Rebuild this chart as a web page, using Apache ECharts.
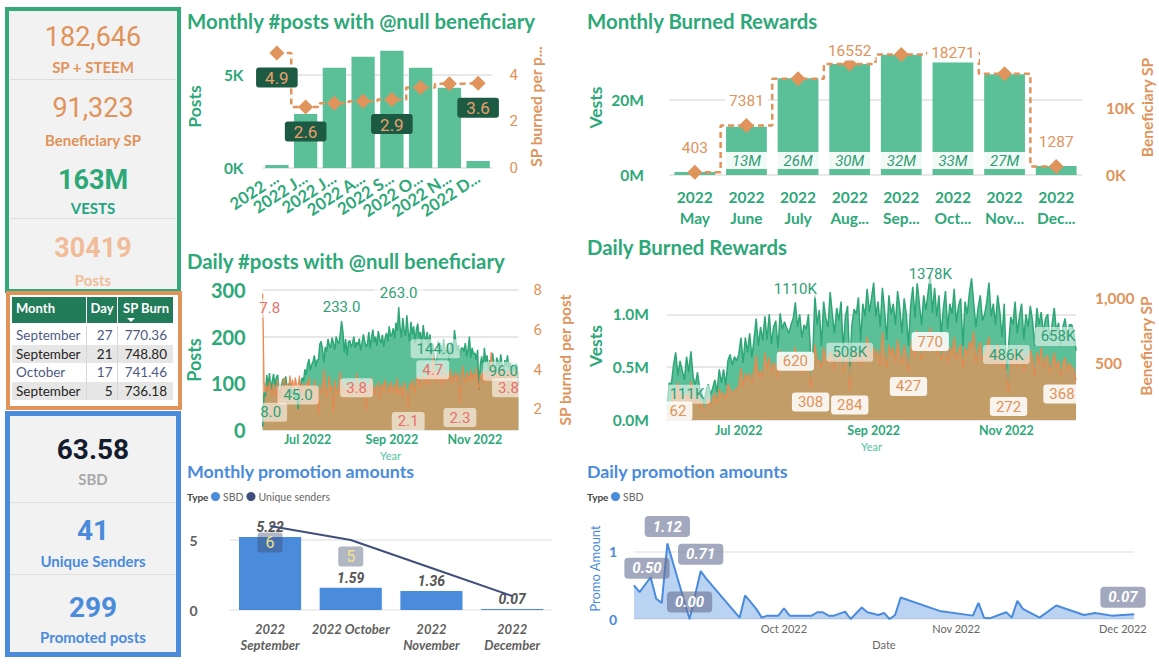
<!DOCTYPE html>
<html><head><meta charset="utf-8">
<script src="https://cdn.jsdelivr.net/npm/echarts@6/dist/echarts.min.js"></script>
<style>
html,body{margin:0;padding:0;background:#fff;width:1159px;height:664px;overflow:hidden;font-family:Lato,"Noto Sans",sans-serif}
#chart{position:absolute;left:0;top:0;width:1159px;height:664px}
.box{position:absolute;box-sizing:border-box}
.kpi{position:absolute;left:9px;width:168px;text-align:center;white-space:nowrap}
.num{font-family:Roboto,"Noto Sans",sans-serif}
.sep{position:absolute;left:10px;width:166px;height:1px;background:#dedede}
#tbl{position:absolute;left:12px;top:297px;width:161px;border-collapse:collapse;table-layout:fixed;font-family:Lato,sans-serif}
#tbl th{background:#227b59;color:#fff;font-weight:bold;font-size:13px;height:22px;padding:0 4px 4px 4px;border-left:1px solid #fff;position:relative;vertical-align:middle}
#tbl td{font-size:13.5px;height:18.5px;padding:0 4px;border-left:1px solid #d6d6d6;white-space:nowrap}
#tbl th:first-child,#tbl td:first-child{border-left:none;text-align:left}
.tri{position:absolute;left:9px;bottom:1px;width:0;height:0;border-left:4px solid transparent;border-right:4px solid transparent;border-top:4px solid #fff}
</style></head><body>
<div id="chart"></div>

<div class="box" style="left:5px;top:7px;width:176px;height:286px;border:4px solid #35a97a;background:#f2f2f2"></div>
<div class="sep" style="top:79px"></div>
<div class="sep" style="top:218px"></div>
<div class="kpi num" style="top:21px;line-height:32px;font-size:27px;color:#e0935a">182,646</div>
<div class="kpi" style="top:58px;line-height:18px;font-size:15px;font-weight:bold;color:#e0935a">SP + STEEM</div>
<div class="kpi num" style="top:92px;line-height:32px;font-size:27px;color:#e0935a">91,323</div>
<div class="kpi" style="top:131px;line-height:18px;font-size:15px;font-weight:bold;color:#e0935a">Beneficiary SP</div>
<div class="kpi num" style="top:164px;line-height:32px;font-size:27px;font-weight:bold;color:#2da878">163M</div>
<div class="kpi" style="top:199px;line-height:18px;font-size:15px;font-weight:bold;color:#23a583">VESTS</div>
<div class="kpi num" style="top:232px;line-height:32px;font-size:27px;font-weight:bold;color:#f0bd98">30419</div>
<div class="kpi" style="top:271px;line-height:18px;font-size:15px;font-weight:bold;color:#f0bd98">Posts</div>

<div class="box" style="left:6px;top:291px;width:176px;height:119px;border:4px solid #e0935a;background:#fff"></div>
<table id="tbl"><colgroup><col style="width:74px"><col style="width:31px"><col style="width:56px"></colgroup>
<thead><tr><th>Month</th><th style="text-align:right">Day</th><th style="text-align:right">SP Burn<span class="tri"></span></th></tr></thead>
<tbody id="tbody" style="border-top:3px solid #fff"></tbody></table>

<div class="box" style="left:5px;top:411px;width:176px;height:246px;border:5px solid #4a8bdc;background:#f2f2f2"></div>
<div class="sep" style="top:502px"></div>
<div class="sep" style="top:574px"></div>
<div class="kpi num" style="top:433px;line-height:34px;font-size:28px;font-weight:bold;color:#141b2d">63.58</div>
<div class="kpi" style="top:470px;line-height:18px;font-size:15px;font-weight:bold;color:#a8a8a8">SBD</div>
<div class="kpi num" style="top:514px;line-height:34px;font-size:28px;font-weight:bold;color:#4a8bdc">41</div>
<div class="kpi" style="top:552px;line-height:18px;font-size:15px;font-weight:bold;color:#4a8bdc">Unique Senders</div>
<div class="kpi num" style="top:591px;line-height:34px;font-size:28px;font-weight:bold;color:#4a8bdc">299</div>
<div class="kpi" style="top:628px;line-height:18px;font-size:15px;font-weight:bold;color:#4a8bdc">Promoted posts</div>

<script>
// ---------------- DATA ----------------
const tblMonth = ['September','September','October','September'];
const tblDay = [27, 21, 17, 5];
const tblBurn = [770.36, 748.80, 741.46, 736.18];

const monthCats = ['2022 May','2022 June','2022 July','2022 August','2022 September','2022 October','2022 November','2022 December'];
const monthlyPosts = [160, 2903, 5376, 5968, 6290, 5376, 4300, 376];
const monthlySpPerPost = [4.94, 2.62, 2.78, 2.87, 2.94, 3.46, 3.62, 3.64];

const burnMonths = ['May','June','July','August','September','October','November','December'];
const monthlyVests = [0.8e6, 12.9e6, 25.8e6, 29.6e6, 32.1e6, 32.6e6, 26.9e6, 2.4e6];
const monthlyBenefSP = [403, 7381, 14350, 16552, 18000, 18271, 15100, 1287];

const dailyStart = [2022, 4, 29];   // 2022-05-29
const dailyCount = 189;              // through 2022-12-03
const dailyTickDates = ['2022-07-01', '2022-09-01', '2022-11-01'];

const dailyPosts = [
 8, 80, 72,
 118, 92, 122, 86, 104, 120, 95, 112, 118, 82, 78, 98, 110, 92, 115, 84, 96, 102, 88, 74, 90, 68, 80, 45, 72, 98, 112, 104, 130, 118,
 140, 152, 128, 140, 146, 160, 135, 150, 150, 184, 190, 172, 145, 178, 168, 195, 182, 176, 198, 186, 172, 200, 190, 185, 205, 233, 210, 165, 195, 158, 188,
 192, 178, 185, 200, 176, 188, 182, 196, 170, 186, 205, 190, 178, 184, 210, 175, 198, 215, 188, 200, 180, 212, 195, 186, 204, 178, 196, 208, 190, 222, 200,
 205, 218, 196, 230, 212, 263, 220, 198, 240, 215, 202, 246, 210, 190, 232, 205, 222, 185, 215, 228, 198, 210, 180, 225, 200, 192, 210, 178, 205, 160,
 185, 160, 144, 150, 190, 168, 182, 158, 195, 172, 165, 185, 150, 178, 188, 162, 214, 190, 170, 182, 160, 175, 176, 168, 186, 158, 172, 200, 155, 176, 162,
 165, 150, 172, 86, 140, 158, 130, 176, 145, 160, 128, 150, 138, 165, 142, 120, 155, 148, 130, 162, 140, 125, 150, 138, 160, 132, 145, 128, 140, 122,
 142, 138, 96
];
const dailySpPerPost = [
 7.8, 3.4, 2.9,
 3.2, 2.9, 3.4, 3.0, 2.7, 3.3, 3.1, 2.6, 3.5, 1.9, 3.2, 2.9, 3.4, 3.6, 3.0, 3.3, 2.8, 3.7, 3.1, 3.5, 2.9, 3.6, 3.2, 3.0, 3.7, 2.8, 3.3, 3.1, 2.7, 3.4,
 3.0, 3.6, 2.7, 3.2, 2.4, 3.5, 2.9, 3.1, 1.7, 3.3, 2.8, 3.0, 4.0, 3.4, 2.6, 3.1, 3.7, 2.9, 3.2, 1.8, 3.5, 3.0, 2.7, 3.3, 3.9, 2.8, 3.1, 3.4, 2.5, 3.0, 3.2,
 3.3, 2.9, 3.1, 3.2, 2.8, 3.8, 3.0, 2.6, 3.4, 3.1, 2.9, 3.5, 1.9, 3.0, 3.3, 2.8, 3.6, 3.1, 2.7, 3.2, 3.0, 3.4, 2.5, 3.1, 3.3, 2.9, 3.5, 3.0, 2.8, 3.2, 3.4,
 2.9, 3.1, 3.3, 2.7, 3.6, 2.8, 3.0, 3.2, 2.6, 3.4, 3.1, 2.9, 2.1, 3.3, 3.0, 3.5, 3.2, 2.8, 3.6, 3.4, 3.7, 3.1, 3.5, 3.8, 3.3, 3.6, 3.7, 3.2, 3.9, 3.5,
 4.7, 3.6, 3.9, 3.3, 4.0, 3.5, 3.7, 3.2, 4.1, 3.6, 3.4, 3.8, 3.5, 4.0, 3.3, 3.7, 3.6, 3.9, 3.4, 3.8, 2.3, 3.5, 4.2, 3.6, 3.3, 3.9, 3.7, 3.4, 4.0, 3.5, 3.8,
 3.6, 4.1, 3.4, 3.0, 3.8, 3.5, 3.9, 3.3, 4.0, 3.6, 3.4, 3.8, 4.9, 3.7, 3.5, 4.1, 3.6, 3.9, 3.4, 3.8, 4.2, 3.6, 3.5, 3.9, 3.7, 4.0, 3.6, 3.8, 3.5, 3.9,
 3.7, 4.0, 3.8
];
const dailyVestsK = [
 111, 350, 340,
 520, 640, 420, 560, 470, 380, 600, 450, 650, 410, 330, 450, 300, 260, 160, 280, 340, 240, 300, 380, 260, 480, 350, 480, 330, 560, 620, 520, 600, 560,
 620, 780, 540, 780, 640, 820, 590, 760, 960, 700, 880, 750, 980, 760, 1000, 720, 880, 940, 680, 1010, 860, 930, 870, 820, 900, 960, 1110, 880, 1000, 780, 900,
 860, 1000, 640, 600, 1180, 900, 1040, 700, 1120, 960, 880, 1210, 1000, 820, 1060, 940, 1120, 660, 980, 1080, 508, 900, 1050, 1000, 1160, 740, 1100, 980, 1240, 1020, 1150,
 1300, 980, 1120, 880, 1250, 1040, 760, 1180, 1000, 1100, 900, 1220, 1060, 820, 1150, 1000, 700, 1080, 1260, 960, 1300, 1100, 900, 1180, 1040, 1200, 1378, 1012, 1250, 980,
 1180, 800, 1050, 1220, 860, 1100, 1000, 1240, 920, 1080, 1150, 700, 1120, 1000, 1200, 1340, 1100, 880, 1060, 1180, 940, 1000, 1120, 1300, 980, 1100, 900, 1180, 1020, 780, 1100,
 486, 700, 974, 900, 1120, 820, 980, 1100, 760, 1000, 880, 1080, 940, 700, 1060, 900, 1020, 820, 960, 1000, 760, 900, 1060, 840, 920, 700, 880, 960, 780, 900,
 900, 842, 658
];
const dailyBenefSP = [
 62, 170, 171,
 281, 220, 350, 180, 280, 240, 260, 200, 360, 260, 190, 280, 150, 210, 120, 180, 240, 160, 230, 270, 190, 300, 250, 270, 220, 340, 300, 260, 290, 300,
 320, 460, 320, 420, 380, 420, 340, 440, 560, 400, 440, 380, 580, 450, 540, 420, 500, 480, 380, 600, 480, 520, 520, 460, 500, 520, 620, 440, 560, 420, 480,
 560, 540, 308, 480, 640, 520, 520, 460, 620, 540, 500, 580, 560, 440, 600, 520, 560, 420, 560, 600, 284, 520, 600, 560, 580, 480, 620, 540, 700, 580, 560,
 620, 540, 600, 480, 736.18, 580, 460, 640, 560, 620, 500, 680, 580, 480, 640, 560, 427, 600, 700, 540, 748.80, 620, 520, 660, 580, 680, 770.36, 600, 700, 560,
 640, 520, 600, 680, 500, 620, 560, 700, 520, 600, 640, 460, 620, 560, 660, 630, 741.46, 500, 600, 660, 520, 560, 620, 700, 540, 600, 480, 640, 560, 460, 580,
 420, 272, 560, 480, 600, 460, 540, 620, 420, 560, 500, 600, 540, 400, 580, 500, 620, 460, 540, 560, 420, 500, 580, 460, 520, 400, 500, 540, 440, 500,
 460, 459, 368
];

const promoMonths = ['2022 September', '2022 October', '2022 November', '2022 December'];
const promoMonthSBD = [5.22, 1.59, 1.36, 0.07];
const promoMonthSenders = [6, 5, 3, 1];

const promoDates = ['2022-09-04','2022-09-05','2022-09-07','2022-09-08','2022-09-09','2022-09-10','2022-09-14','2022-09-16','2022-09-17','2022-09-23',
 '2022-09-24','2022-09-26','2022-09-27','2022-09-28','2022-09-30','2022-10-01','2022-10-02','2022-10-06','2022-10-07','2022-10-08',
 '2022-10-09','2022-10-10','2022-10-12','2022-10-13','2022-10-15','2022-10-16','2022-10-18','2022-10-19','2022-10-20','2022-10-21',
 '2022-10-22','2022-10-29','2022-11-04','2022-11-05','2022-11-06','2022-11-07','2022-11-10','2022-11-11','2022-11-12','2022-11-13',
 '2022-11-16','2022-11-19','2022-11-24','2022-11-26','2022-11-29','2022-12-03'];
const promoSBD = [0.50,0.40,0.62,0.30,0.24,1.12,0.00,0.71,0.60,0.02,
 0.35,0.15,0.02,0.05,0.05,0.16,0.05,0.05,0.10,0.10,
 0.05,0.05,0.11,0.00,0.17,0.10,0.06,0.09,0.00,0.06,
 0.32,0.12,0.05,0.24,0.02,0.01,0.10,0.02,0.27,0.15,
 0.02,0.20,0.06,0.09,0.05,0.07];
const promoRange = ['2022-09-04', '2022-12-03'];
const promoTickDates = ['2022-10-01', '2022-11-01', '2022-12-01'];

// ---------------- TABLE ----------------
(function(){
  const tb = document.getElementById('tbody');
  tblMonth.forEach((m, i) => {
    const tr = document.createElement('tr');
    const even = i % 2 === 1;
    tr.style.background = even ? '#e6e6e6' : '#ffffff';
    tr.style.color = even ? '#252423' : '#4e5a84';
    tr.innerHTML = '<td>' + m + '</td><td style="text-align:right">' + tblDay[i] +
      '</td><td style="text-align:right;padding-right:6px">' + tblBurn[i].toFixed(2) + '</td>';
    tb.appendChild(tr);
  });
})();

// ---------------- HELPERS ----------------
const FONT = 'Lato, "Noto Sans", sans-serif';
const NUM = 'Roboto, "Noto Sans", sans-serif';
const GREEN = '#2da878', GREEN_BAR = '#5bbf98', GREEN_LINE = '#2ea777';
const ORANGE = '#e0935a', BLUE = '#4a8bdc';

const dailyDates = [];
for (let i = 0; i < dailyCount; i++) {
  dailyDates.push(new Date(Date.UTC(dailyStart[0], dailyStart[1], dailyStart[2] + i)).toISOString().slice(0, 10));
}
const MON = ['Jan','Feb','Mar','Apr','May','Jun','Jul','Aug','Sep','Oct','Nov','Dec'];
const ts = s => { const p = s.split('-').map(Number); return Date.UTC(p[0], p[1] - 1, p[2]); };

function labelled(values, map, hideSymbol, color) {
  return values.map((v, i) => {
    if (!map[i]) return v;
    const o = { value: v, label: Object.assign({ show: true }, map[i]) };
    if (hideSymbol) { o.symbol = 'circle'; o.symbolSize = 1; o.itemStyle = { color: color }; }
    return o;
  });
}
const gridBase = { containLabel: false, outerBoundsMode: 'none' };
const noLine = { show: false };

const greenLbl = { position: 'top', distance: 4, color: '#2e9f75', fontSize: 15, fontFamily: NUM,
  backgroundColor: 'rgba(255,255,255,0.55)', padding: [2, 6], borderRadius: 3 };
const salmonLbl = { position: 'bottom', distance: 4, color: '#e8706a', fontSize: 15, fontFamily: NUM,
  backgroundColor: 'rgba(255,255,255,0.6)', padding: [2, 6], borderRadius: 3 };
const orangeLbl = { position: 'bottom', distance: 4, color: ORANGE, fontSize: 15, fontFamily: NUM,
  backgroundColor: 'rgba(255,255,255,0.88)', padding: [2, 6], borderRadius: 3 };

// ---------------- OPTION ----------------
const option = {
  animation: false,
  textStyle: { fontFamily: FONT },
  grid: [
    { left: 262.5, top: 45, width: 230, height: 123 },
    { left: 669, top: 40, width: 413, height: 135 },
    { left: 262.7, top: 290, width: 255.7, height: 140 },
    { left: 667, top: 272, width: 409, height: 148 },
    { left: 229.7, top: 512, width: 322.8, height: 98 },
    { left: 634, top: 518, width: 500, height: 101 }
  ].map(g => Object.assign({}, gridBase, g)),
  xAxis: [
    { type: 'category', gridIndex: 0, data: monthCats, axisLine: noLine, axisTick: noLine,
      axisLabel: { interval: 0, rotate: 33, margin: 8, color: GREEN, fontWeight: 'bold', fontSize: 16.5, fontFamily: FONT,
        formatter: (v, i) => i === 0 ? '2022 ...' : v.slice(0, 6) + '...' } },
    { type: 'category', gridIndex: 1, data: burnMonths, axisLine: noLine, axisTick: noLine,
      axisLabel: { interval: 0, margin: 11, lineHeight: 21, color: GREEN, fontWeight: 'bold', fontSize: 15.5, fontFamily: FONT,
        formatter: v => '2022\n' + (v.length > 4 ? v.slice(0, 3) + '...' : v) } },
    { type: 'category', gridIndex: 2, data: dailyDates, boundaryGap: false, axisLine: noLine, axisTick: noLine,
      axisLabel: { interval: (i, v) => dailyTickDates.indexOf(v) >= 0, margin: 3, color: GREEN, fontWeight: 'bold', fontSize: 12.5,
        formatter: v => MON[+v.slice(5, 7) - 1] + ' ' + v.slice(0, 4) },
      name: 'Year', nameLocation: 'middle', nameGap: 20, nameTextStyle: { color: '#4fc3a1', fontSize: 11 } },
    { type: 'category', gridIndex: 3, data: dailyDates, boundaryGap: false, axisLine: noLine, axisTick: noLine,
      axisLabel: { interval: (i, v) => dailyTickDates.indexOf(v) >= 0, margin: 3.5, color: GREEN, fontWeight: 'bold', fontSize: 12.5,
        formatter: v => MON[+v.slice(5, 7) - 1] + ' ' + v.slice(0, 4) },
      name: 'Year', nameLocation: 'middle', nameGap: 21, nameTextStyle: { color: '#4fc3a1', fontSize: 11 } },
    { type: 'category', gridIndex: 4, data: promoMonths, axisLine: noLine, axisTick: noLine,
      axisLabel: { interval: 0, margin: 11, lineHeight: 16, color: '#605e5c', fontWeight: 'bold', fontStyle: 'italic', fontSize: 13,
        formatter: v => v.length > 12 ? v.replace(' ', '\n') : v } },
    { type: 'value', gridIndex: 5, min: ts(promoRange[0]), max: ts(promoRange[1]), axisLine: noLine,
      axisTick: { show: false, customValues: promoTickDates.map(ts) },
      splitLine: noLine,
      axisLabel: { customValues: promoTickDates.map(ts), margin: 4, color: '#666', fontSize: 11,
        formatter: v => MON[new Date(v).getUTCMonth()] + ' ' + new Date(v).getUTCFullYear() },
      name: 'Date', nameLocation: 'middle', nameGap: 20, nameTextStyle: { color: '#666', fontSize: 11 } }
  ],
  yAxis: [
    { type: 'value', gridIndex: 0, min: 0, max: 6600, axisLine: noLine,
      axisTick: { show: false, customValues: [0, 5000] },
      axisLabel: { customValues: [0, 5000], formatter: v => (v / 1000) + 'K', color: GREEN, fontWeight: 'bold', fontSize: 15.5, margin: 19 },
      splitLine: { lineStyle: { color: '#e8e8e8', width: 2 } },
      name: 'Posts', nameLocation: 'middle', nameGap: 59, nameTextStyle: { color: GREEN, fontWeight: 'bold', fontSize: 17.5 } },
    { type: 'value', gridIndex: 0, position: 'right', min: 0, max: 5.28, axisLine: noLine,
      axisTick: { show: false, customValues: [0, 2, 4] },
      axisLabel: { customValues: [0, 2, 4], color: ORANGE, fontSize: 15, fontFamily: NUM, margin: 17 },
      splitLine: noLine,
      name: 'SP burned per p...', nameLocation: 'middle', nameGap: 35, nameTextStyle: { color: ORANGE, fontWeight: 'bold', fontSize: 15.5 } },
    { type: 'value', gridIndex: 1, min: 0, max: 36e6, axisLine: noLine,
      axisTick: { show: false, customValues: [0, 20e6] },
      axisLabel: { customValues: [0, 20e6], formatter: v => (v / 1e6) + 'M', color: GREEN, fontWeight: 'bold', fontSize: 15.5, margin: 25 },
      splitLine: { lineStyle: { color: '#e8e8e8', width: 2 } },
      name: 'Vests', nameLocation: 'middle', nameGap: 65, nameTextStyle: { color: GREEN, fontWeight: 'bold', fontSize: 17.5 } },
    { type: 'value', gridIndex: 1, position: 'right', min: 0, max: 20150, axisLine: noLine,
      axisTick: { show: false, customValues: [0, 10000] },
      axisLabel: { customValues: [0, 10000], formatter: v => (v / 1000) + 'K', color: ORANGE, fontWeight: 'bold', fontSize: 15.5, margin: 24 },
      splitLine: noLine,
      name: 'Beneficiary SP', nameLocation: 'middle', nameGap: 55, nameTextStyle: { color: ORANGE, fontWeight: 'bold', fontSize: 15.5 } },
    { type: 'value', gridIndex: 2, min: 0, max: 300, interval: 100, axisLine: noLine, axisTick: noLine,
      axisLabel: { color: GREEN, fontWeight: 'bold', fontSize: 20, margin: 17 },
      splitLine: { lineStyle: { color: '#e8e8e8', width: 2 } },
      name: 'Posts', nameLocation: 'middle', nameGap: 60, nameTextStyle: { color: GREEN, fontWeight: 'bold', fontSize: 18 } },
    { type: 'value', gridIndex: 2, position: 'right', min: 0.97, max: 8, axisLine: noLine,
      axisTick: { show: false, customValues: [2, 4, 6, 8] },
      axisLabel: { customValues: [2, 4, 6, 8], color: ORANGE, fontSize: 15, fontFamily: NUM, margin: 15 },
      splitLine: noLine,
      name: 'SP burned per post', nameLocation: 'middle', nameGap: 39, nameTextStyle: { color: ORANGE, fontWeight: 'bold', fontSize: 15.5 } },
    { type: 'value', gridIndex: 3, min: 0, max: 1400, axisLine: noLine,
      axisTick: { show: false, customValues: [0, 500, 1000] },
      axisLabel: { customValues: [0, 500, 1000], formatter: v => (v / 1000).toFixed(1) + 'M', color: GREEN, fontWeight: 'bold', fontSize: 15.5, margin: 18 },
      splitLine: { lineStyle: { color: '#e8e8e8', width: 2 } },
      name: 'Vests', nameLocation: 'middle', nameGap: 63, nameTextStyle: { color: GREEN, fontWeight: 'bold', fontSize: 17.5 } },
    { type: 'value', gridIndex: 3, position: 'right', min: 62, max: 1196.5, axisLine: noLine,
      axisTick: { show: false, customValues: [500, 1000] },
      axisLabel: { customValues: [500, 1000], formatter: v => v.toLocaleString('en-US'), color: ORANGE, fontWeight: 'bold', fontSize: 15.5, margin: 19 },
      splitLine: noLine,
      name: 'Beneficiary SP', nameLocation: 'middle', nameGap: 61, nameTextStyle: { color: ORANGE, fontWeight: 'bold', fontSize: 15.5 } },
    { type: 'value', gridIndex: 4, min: 0, max: 7, axisLine: noLine,
      axisTick: { show: false, customValues: [0, 5] },
      axisLabel: { customValues: [0, 5], color: '#605e5c', fontWeight: 'bold', fontSize: 14, margin: 32 },
      splitLine: { lineStyle: { color: '#eeeeee', width: 2 } } },
    { type: 'value', gridIndex: 5, min: 0, max: 1.5, axisLine: noLine,
      axisTick: { show: false, customValues: [0, 1] },
      axisLabel: { customValues: [0, 1], color: BLUE, fontWeight: 'bold', fontSize: 14, margin: 17 },
      splitLine: { lineStyle: { color: '#eeeeee', width: 2 } },
      name: 'Promo Amount', nameLocation: 'middle', nameGap: 33, nameTextStyle: { color: BLUE, fontSize: 13 } }
  ],
  legend: [
    { data: ['SBD', 'Unique senders'], left: 211, top: 491, icon: 'circle', itemWidth: 9, itemHeight: 9, itemGap: 3, padding: 0,
      textStyle: { color: '#666', fontSize: 10.5, padding: [0, 0, 0, -2] } },
    { data: ['SBD'], left: 611, top: 491, icon: 'circle', itemWidth: 9, itemHeight: 9, itemGap: 3, padding: 0,
      textStyle: { color: '#666', fontSize: 10.5, padding: [0, 0, 0, -2] } }
  ],
  series: [
    { type: 'bar', name: 'Posts', xAxisIndex: 0, yAxisIndex: 0, data: monthlyPosts, barWidth: '81%',
      itemStyle: { color: GREEN_BAR } },
    { type: 'line', name: 'SP per post', xAxisIndex: 0, yAxisIndex: 1, step: 'middle', z: 3,
      data: labelled(monthlySpPerPost, { 0: {}, 1: {}, 4: {}, 7: {} }),
      symbol: 'diamond', symbolSize: 15, itemStyle: { color: ORANGE },
      lineStyle: { color: ORANGE, width: 2.5, type: [6, 4] },
      label: { show: false, position: 'bottom', distance: 7, formatter: p => p.value.toFixed(1), color: '#e8a06a',
        backgroundColor: '#1d5a43', fontSize: 17, fontFamily: NUM, padding: [2, 9, 1, 9], borderRadius: 3 } },
    { type: 'bar', name: 'Vests', xAxisIndex: 1, yAxisIndex: 2, barWidth: '79%', itemStyle: { color: GREEN_BAR },
      data: labelled(monthlyVests, { 1: {}, 2: {}, 3: {}, 4: {}, 5: {}, 6: {} }),
      label: { show: false, position: 'insideBottom', distance: 6, formatter: p => Math.round(p.value / 1e6) + 'M',
        color: '#2e9e72', fontStyle: 'italic', fontSize: 15, fontFamily: NUM,
        backgroundColor: 'rgba(255,255,255,0.92)', padding: [1, 7], borderRadius: 2 } },
    { type: 'line', name: 'Beneficiary', xAxisIndex: 1, yAxisIndex: 3, step: 'middle', z: 3,
      data: labelled(monthlyBenefSP, { 0: {}, 1: {}, 3: { distance: -4 }, 5: { position: 'inside' }, 7: {} }),
      symbol: 'diamond', symbolSize: 15, itemStyle: { color: ORANGE },
      lineStyle: { color: ORANGE, width: 2.5, type: [6, 4] },
      label: { show: false, position: 'top', distance: 7, color: ORANGE, fontSize: 15.5, fontFamily: NUM,
        backgroundColor: 'rgba(255,255,255,0.97)', padding: [2, 4] } },
    { type: 'line', name: 'Daily posts', xAxisIndex: 2, yAxisIndex: 4, symbol: 'none', showSymbol: true, showAllSymbol: true,
      data: labelled(dailyPosts, { 0: { offset: [8, 0] }, 26: {}, 58: {}, 100: {}, 127: {}, 188: { offset: [-15, 0] } }, true, GREEN_LINE),
      lineStyle: { color: GREEN_LINE, width: 1.5 }, areaStyle: { color: GREEN_BAR, opacity: 1 },
      label: Object.assign({ show: false, formatter: p => p.value.toFixed(1) }, greenLbl) },
    { type: 'line', name: 'Daily sp', xAxisIndex: 2, yAxisIndex: 5, symbol: 'none', showSymbol: true, showAllSymbol: true,
      data: labelled(dailySpPerPost, { 0: { offset: [7, 0] }, 69: {}, 107: {}, 125: {}, 145: {}, 188: { offset: [-10, 0] } }, true, '#e8894f'),
      lineStyle: { color: '#e8894f', width: 1.2 }, areaStyle: { color: ORANGE, opacity: 0.78 },
      label: Object.assign({ show: false, formatter: p => p.value.toFixed(1) }, salmonLbl) },
    { type: 'line', name: 'Daily vests', xAxisIndex: 3, yAxisIndex: 6, symbol: 'none', showSymbol: true, showAllSymbol: true,
      data: labelled(dailyVestsK, { 0: { offset: [20, 0] }, 59: {}, 84: {}, 121: { position: 'inside' }, 156: {}, 188: { offset: [-18, 0] } }, true, GREEN_LINE),
      lineStyle: { color: GREEN_LINE, width: 1.5 }, areaStyle: { color: GREEN_BAR, opacity: 1 },
      label: Object.assign({ show: false, formatter: p => Math.round(p.value) + 'K' }, greenLbl) },
    { type: 'line', name: 'Daily benef', xAxisIndex: 3, yAxisIndex: 7, symbol: 'none', showSymbol: true, showAllSymbol: true,
      data: labelled(dailyBenefSP, { 0: { position: 'top', distance: -1, offset: [11, 0] }, 59: {}, 66: {}, 84: {}, 111: {}, 121: {}, 157: {}, 188: { offset: [-14, 0] } }, true, '#e8894f'),
      lineStyle: { color: '#e8894f', width: 1.2 }, areaStyle: { color: ORANGE, opacity: 0.78 },
      label: Object.assign({ show: false, formatter: p => Math.round(p.value) }, orangeLbl) },
    { type: 'bar', name: 'SBD', xAxisIndex: 4, yAxisIndex: 8, data: promoMonthSBD, barWidth: '77%',
      itemStyle: { color: BLUE },
      label: { show: true, position: 'top', distance: 3, formatter: p => p.value.toFixed(2), color: '#555',
        fontStyle: 'italic', fontWeight: 'bold', fontSize: 14, fontFamily: NUM } },
    { type: 'line', name: 'Unique senders', xAxisIndex: 4, yAxisIndex: 8, symbol: 'none', showSymbol: true, z: 4,
      data: labelled(promoMonthSenders, { 0: {}, 1: {} }, true, '#3f4f7d'),
      itemStyle: { color: '#3f4f7d' }, lineStyle: { color: '#3f4f7d', width: 2 },
      label: { show: false, position: 'bottom', distance: 6, color: '#f3e38b', fontSize: 16, fontFamily: NUM,
        backgroundColor: 'rgba(60,72,105,0.4)', padding: [2, 8], borderRadius: 3 } },
    { type: 'line', name: 'SBD', xAxisIndex: 5, yAxisIndex: 9, symbol: 'none', showSymbol: true, showAllSymbol: true,
      itemStyle: { color: BLUE },
      data: promoDates.map((d, i) => {
        const lm = { 0: { offset: [13, 0] }, 5: {}, 6: {}, 7: {}, 45: { offset: [-11, 0] } };
        const o = { value: [ts(d), promoSBD[i]] };
        if (lm[i]) { o.symbol = 'circle'; o.symbolSize = 1; o.label = Object.assign({ show: true }, lm[i]); }
        return o;
      }),
      lineStyle: { color: BLUE, width: 2 }, areaStyle: { color: BLUE, opacity: 0.38 },
      label: { show: false, position: 'top', distance: 6, formatter: p => p.value[1].toFixed(2), color: '#fff',
        fontStyle: 'italic', fontWeight: 'bold', fontSize: 15, fontFamily: NUM,
        backgroundColor: 'rgba(105,115,150,0.62)', padding: [3, 8], borderRadius: 4 } }
  ],
  graphic: [
    { type: 'text', x: 187, y: 21, style: { text: 'Monthly #posts with @null beneficiary', font: 'bold 20.4px Lato', fill: GREEN, verticalAlign: 'middle' } },
    { type: 'text', x: 587, y: 21, style: { text: 'Monthly Burned Rewards', font: 'bold 20.4px Lato', fill: GREEN, verticalAlign: 'middle' } },
    { type: 'text', x: 187, y: 261, style: { text: 'Daily #posts with @null beneficiary', font: 'bold 20.4px Lato', fill: GREEN, verticalAlign: 'middle' } },
    { type: 'text', x: 587, y: 247, style: { text: 'Daily Burned Rewards', font: 'bold 20.4px Lato', fill: GREEN, verticalAlign: 'middle' } },
    { type: 'text', x: 187, y: 471, style: { text: 'Monthly promotion amounts', font: 'bold 17.8px Lato', fill: BLUE, verticalAlign: 'middle' } },
    { type: 'text', x: 587, y: 471, style: { text: 'Daily promotion amounts', font: 'bold 17.8px Lato', fill: BLUE, verticalAlign: 'middle' } },
    { type: 'text', x: 187, y: 497, style: { text: 'Type', font: 'bold 10px Lato', fill: '#444', verticalAlign: 'middle' } },
    { type: 'text', x: 587, y: 497, style: { text: 'Type', font: 'bold 10px Lato', fill: '#444', verticalAlign: 'middle' } }
  ]
};

const chart = echarts.init(document.getElementById('chart'), null, { renderer: 'svg', width: 1159, height: 664 });
chart.setOption(option);
</script>
</body></html>
